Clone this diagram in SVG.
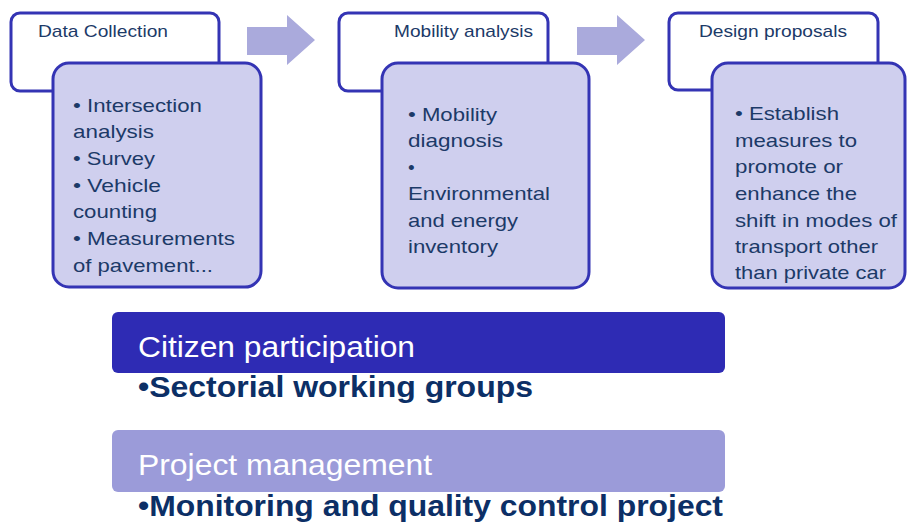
<svg xmlns="http://www.w3.org/2000/svg" width="907" height="525" viewBox="0 0 907 525">
<style>
.outer{fill:#ffffff;stroke:#3434b4;stroke-width:3}
.inner{fill:#cfcfee;stroke:#3434b4;stroke-width:3}
.head{font-family:"Liberation Sans",Arial,sans-serif;font-size:17px;fill:#1c3a68}
.body{font-family:"Liberation Sans",Arial,sans-serif;font-size:19px;fill:#1c3a68}
.arrow{fill:#aaaadc}
.bartxt{font-family:"Liberation Sans",Arial,sans-serif;font-size:30px;fill:#ffffff}
.bold{font-family:"Liberation Sans",Arial,sans-serif;font-size:30px;font-weight:bold;fill:#0c2f66}
</style>
<rect width="907" height="525" fill="#ffffff"/>
<g id="connectors">
<polygon class="arrow" points="247,27 287,27 287,15 315,40 287,65 287,55 247,55"/>
<polygon class="arrow" points="577,27 617,27 617,15 645,40 617,65 617,55 577,55"/>
</g>
<g id="data-collection">
<rect class="outer" x="11" y="13" width="208" height="78" rx="9"/>
<text class="head" x="38" y="37" textLength="130" lengthAdjust="spacingAndGlyphs">Data Collection</text>
<rect class="inner" x="53" y="63" width="208" height="224" rx="16"/>
<text class="body" x="73" y="112" textLength="129" lengthAdjust="spacingAndGlyphs">• Intersection</text>
<text class="body" x="73" y="138" textLength="81" lengthAdjust="spacingAndGlyphs">analysis</text>
<text class="body" x="73" y="165" textLength="82" lengthAdjust="spacingAndGlyphs">• Survey</text>
<text class="body" x="73" y="192" textLength="88" lengthAdjust="spacingAndGlyphs">• Vehicle</text>
<text class="body" x="73" y="218" textLength="84" lengthAdjust="spacingAndGlyphs">counting</text>
<text class="body" x="73" y="245" textLength="162" lengthAdjust="spacingAndGlyphs">• Measurements</text>
<text class="body" x="73" y="272" textLength="140" lengthAdjust="spacingAndGlyphs">of pavement...</text>
</g>
<g id="mobility-analysis">
<rect class="outer" x="339" y="13" width="209" height="78" rx="9"/>
<text class="head" x="394" y="37" textLength="139" lengthAdjust="spacingAndGlyphs">Mobility analysis</text>
<rect class="inner" x="382" y="63" width="207" height="225" rx="16"/>
<text class="body" x="408" y="121" textLength="89" lengthAdjust="spacingAndGlyphs">• Mobility</text>
<text class="body" x="408" y="147" textLength="95" lengthAdjust="spacingAndGlyphs">diagnosis</text>
<text class="body" x="408" y="174">•</text>
<text class="body" x="408" y="200" textLength="142" lengthAdjust="spacingAndGlyphs">Environmental</text>
<text class="body" x="408" y="227" textLength="110" lengthAdjust="spacingAndGlyphs">and energy</text>
<text class="body" x="408" y="253" textLength="90" lengthAdjust="spacingAndGlyphs">inventory</text>
</g>
<g id="design-proposals">
<rect class="outer" x="669" y="13" width="209" height="77" rx="9"/>
<text class="head" x="699" y="37" textLength="148" lengthAdjust="spacingAndGlyphs">Design proposals</text>
<rect class="inner" x="712" y="63" width="193" height="225" rx="16"/>
<text class="body" x="735" y="120" textLength="104" lengthAdjust="spacingAndGlyphs">• Establish</text>
<text class="body" x="735" y="147" textLength="122" lengthAdjust="spacingAndGlyphs">measures to</text>
<text class="body" x="735" y="173" textLength="108" lengthAdjust="spacingAndGlyphs">promote or</text>
<text class="body" x="735" y="200" textLength="122" lengthAdjust="spacingAndGlyphs">enhance the</text>
<text class="body" x="735" y="227" textLength="162" lengthAdjust="spacingAndGlyphs">shift in modes of</text>
<text class="body" x="735" y="253" textLength="143" lengthAdjust="spacingAndGlyphs">transport other</text>
<text class="body" x="735" y="279" textLength="151" lengthAdjust="spacingAndGlyphs">than private car</text>
</g>
<g id="citizen-participation">
<rect x="112" y="312" width="613" height="61" rx="6" fill="#2e2bb4"/>
<text class="bartxt" x="138" y="357" textLength="277" lengthAdjust="spacingAndGlyphs">Citizen participation</text>
<text class="bold" x="138" y="397" textLength="395" lengthAdjust="spacingAndGlyphs">•Sectorial working groups</text>
</g>
<g id="project-management">
<rect x="112" y="430" width="613" height="62" rx="6" fill="#9b9bd9"/>
<text class="bartxt" x="138" y="475" textLength="294" lengthAdjust="spacingAndGlyphs">Project management</text>
<text class="bold" x="138" y="516" textLength="585" lengthAdjust="spacingAndGlyphs">•Monitoring and quality control project</text>
</g>
</svg>
